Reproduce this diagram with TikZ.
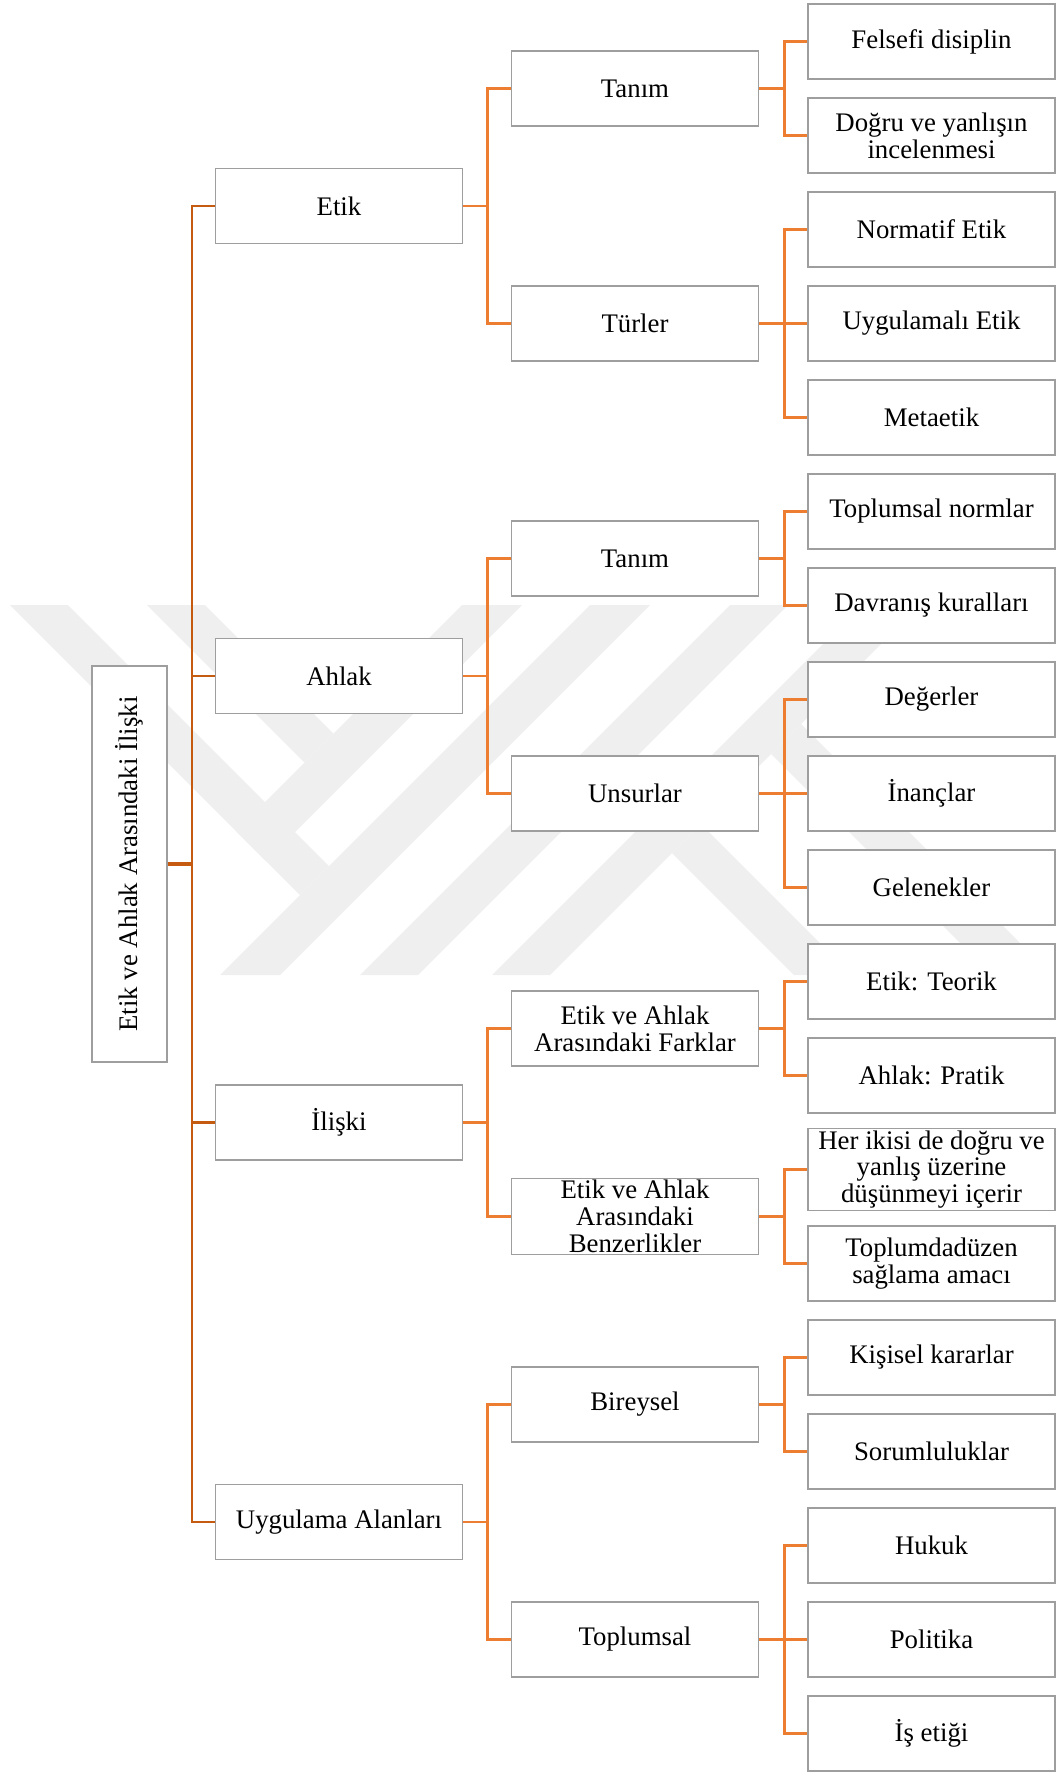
\documentclass[tikz,border=0pt]{standalone}
\usepackage{fontspec}
\setmainfont{Liberation Serif}
\usetikzlibrary{positioning}

\definecolor{lineor}{HTML}{ED7D31}
\definecolor{linedk}{HTML}{C55A11}
\definecolor{boxgray}{HTML}{9E9E9E}
\definecolor{wmgray}{HTML}{EFEFEF}

\begin{document}
\begin{tikzpicture}[x=0.5pt, y=-0.5pt,
  box/.style={draw=boxgray, line width=0.75pt, fill=white, minimum width=123.5pt,
    minimum height=37.5pt, inner sep=1pt, align=center,
    font=\fontsize{13.4}{13.35}\selectfont},
  link/.style={draw=lineor, line width=1.25pt},
  rootlink/.style={draw=linedk, line width=1.25pt}]
  \useasboundingbox (0,0) rectangle (1056,1772);

  % filigran
  \fill[wmgray] (590,605) -- (650,605) -- (280,975) -- (220,975) -- cycle;
  \fill[wmgray] (730,605) -- (788,605) -- (418,975) -- (360,975) -- cycle;
  \fill[wmgray] (862,605) -- (920,605) -- (550,975) -- (492,975) -- cycle;
  \fill[wmgray] (462,605) -- (522,605) -- (266,861) -- (236,831) -- cycle;
  \fill[wmgray] (10,605) -- (68,605) -- (329,866) -- (300,895) -- cycle;
  \fill[wmgray] (147,605) -- (205,605) -- (333.5,733.5) -- (304.5,762.5) -- cycle;
  \fill[wmgray] (672,853) -- (701,824) -- (852,975) -- (794,975) -- cycle;
  \fill[wmgray] (771,754) -- (801,724) -- (1052,975) -- (992,975) -- cycle;

  % kök
  \node[box, rotate=90, minimum width=198pt] (kok) at (129.5,864) {Etik ve Ahlak Arasındaki İlişki};

  % birinci düzey
  \node[box] (etik) at (339,206) {Etik};
  \node[box] (ahlak) at (339,676) {Ahlak};
  \node[box] (iliski) at (339,1122.5) {İlişki};
  \node[box] (uygulama) at (339,1522) {Uygulama Alanları};

  % ikinci düzey
  \node[box] (etiktanim) at (635,88.5) {Tanım};
  \node[box] (turler) at (635,323.5) {Türler};
  \node[box] (ahlaktanim) at (635,558.5) {Tanım};
  \node[box] (unsurlar) at (635,793.5) {Unsurlar};
  \node[box] (farklar) at (635,1028.5) {Etik ve Ahlak\\Arasındaki Farklar};
  \node[box] (benzer) at (635,1216.5) {Etik ve Ahlak\\Arasındaki\\Benzerlikler};
  \node[box] (bireysel) at (635,1404.5) {Bireysel};
  \node[box] (toplumsal) at (635,1639.5) {Toplumsal};

  % yapraklar
  \node[box] (felsefi) at (931.5,41.5) {Felsefi disiplin};
  \node[box] (dogru) at (931.5,135.5) {Doğru ve yanlışın\\incelenmesi};
  \node[box] (normatif) at (931.5,229.5) {Normatif Etik};
  \node[box] (uygulamali) at (931.5,323.5) {Uygulamalı Etik};
  \node[box] (metaetik) at (931.5,417.5) {Metaetik};
  \node[box] (tnorm) at (931.5,511.5) {Toplumsal normlar};
  \node[box] (davranis) at (931.5,605.5) {Davranış kuralları};
  \node[box] (degerler) at (931.5,699.5) {Değerler};
  \node[box] (inanclar) at (931.5,793.5) {İnançlar};
  \node[box] (gelenekler) at (931.5,887.5) {Gelenekler};
  \node[box] (teorik) at (931.5,981.5) {Etik: Teorik};
  \node[box] (pratik) at (931.5,1075.5) {Ahlak: Pratik};
  \node[box] (herikisi) at (931.5,1169.5) {Her ikisi de doğru ve\\yanlış üzerine\\düşünmeyi içerir};
  \node[box] (duzen) at (931.5,1263.5) {Toplumdadüzen\\sağlama amacı};
  \node[box] (kisisel) at (931.5,1357.5) {Kişisel kararlar};
  \node[box] (sorum) at (931.5,1451.5) {Sorumluluklar};
  \node[box] (hukuk) at (931.5,1545.5) {Hukuk};
  \node[box] (politika) at (931.5,1639.5) {Politika};
  \node[box] (isetigi) at (931.5,1733.5) {İş etiği};

  % bağlantılar
  \foreach \c in {etik,ahlak,iliski,uygulama}
    \draw[rootlink] (kok.south) -- ++(24,0) |- (\c.west);
  \draw[rootlink, line width=1.75pt] (kok.south) -- ++(24,0);

  \foreach \c in {etiktanim,turler} \draw[link] (etik.east) -- ++(24,0) |- (\c.west);
  \foreach \c in {ahlaktanim,unsurlar} \draw[link] (ahlak.east) -- ++(24,0) |- (\c.west);
  \foreach \c in {farklar,benzer} \draw[link] (iliski.east) -- ++(24,0) |- (\c.west);
  \foreach \c in {bireysel,toplumsal} \draw[link] (uygulama.east) -- ++(24,0) |- (\c.west);

  \foreach \c in {felsefi,dogru} \draw[link] (etiktanim.east) -- ++(25,0) |- (\c.west);
  \foreach \c in {normatif,uygulamali,metaetik} \draw[link] (turler.east) -- ++(25,0) |- (\c.west);
  \foreach \c in {tnorm,davranis} \draw[link] (ahlaktanim.east) -- ++(25,0) |- (\c.west);
  \foreach \c in {degerler,inanclar,gelenekler} \draw[link] (unsurlar.east) -- ++(25,0) |- (\c.west);
  \foreach \c in {teorik,pratik} \draw[link] (farklar.east) -- ++(25,0) |- (\c.west);
  \foreach \c in {herikisi,duzen} \draw[link] (benzer.east) -- ++(25,0) |- (\c.west);
  \foreach \c in {kisisel,sorum} \draw[link] (bireysel.east) -- ++(25,0) |- (\c.west);
  \foreach \c in {hukuk,politika,isetigi} \draw[link] (toplumsal.east) -- ++(25,0) |- (\c.west);
\end{tikzpicture}
\end{document}
